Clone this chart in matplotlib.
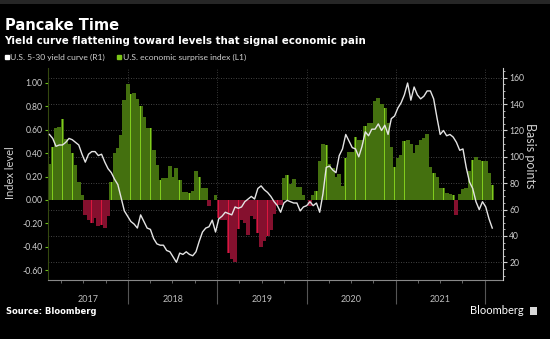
import numpy as np
import pandas as pd
import matplotlib
matplotlib.use('Agg')
import matplotlib.pyplot as plt
import matplotlib.dates as mdates
from matplotlib.ticker import FixedLocator, MultipleLocator, FuncFormatter
from matplotlib.lines import Line2D
from matplotlib.patches import Rectangle

plt.rcParams['font.family'] = ['Lato', 'DejaVu Sans']

# values, roughly every two weeks
surprise = [0.31, 0.45, 0.61, 0.62, 0.69, 0.52, 0.48, 0.40, 0.30, 0.15,
            0.04, -0.13, -0.17, -0.20, -0.15, -0.22, -0.21, -0.24, -0.14, 0.15,
            0.40, 0.44, 0.55, 0.85, 0.99, 0.90, 0.91, 0.86, 0.80, 0.71,
            0.61, 0.61, 0.43, 0.30, 0.17, 0.19, 0.19, 0.29, 0.20, 0.27,
            0.17, 0.07, 0.07, 0.06, 0.08, 0.25, 0.20, 0.10, 0.10, -0.05,
            0.00, 0.04, -0.15, -0.17, -0.17, -0.45, -0.50, -0.53, -0.25, -0.17,
            -0.20, -0.30, -0.14, -0.16, -0.28, -0.40, -0.35, -0.31, -0.26, -0.12,
            -0.04, -0.04, 0.19, 0.21, 0.14, 0.18, 0.11, 0.11, 0.04, 0.00,
            -0.05, 0.04, 0.08, 0.33, 0.48, 0.47, 0.31, 0.27, 0.20, 0.22,
            0.12, 0.36, 0.41, 0.41, 0.54, 0.51, 0.51, 0.63, 0.66, 0.66,
            0.84, 0.87, 0.82, 0.78, 0.66, 0.45, 0.28, 0.36, 0.38, 0.50,
            0.51, 0.48, 0.40, 0.47, 0.51, 0.53, 0.56, 0.28, 0.23, 0.20,
            0.10, 0.10, 0.06, 0.05, 0.04, -0.13, 0.05, 0.09, 0.10, 0.25,
            0.34, 0.37, 0.34, 0.33, 0.33, 0.23, 0.13]

curve = [117, 114, 108, 109, 109, 111, 114, 113, 111, 109,
         102, 96, 102, 104, 104, 101, 102, 96, 91, 88,
         83, 79, 69, 59, 55, 51, 49, 46, 56, 51,
         46, 45, 38, 34, 33, 33, 29, 28, 24, 20,
         27, 26, 28, 26, 25, 28, 36, 43, 46, 47,
         52, 43, 53, 55, 58, 57, 56, 62, 61, 62,
         66, 68, 70, 68, 76, 78, 75, 73, 70, 66,
         63, 58, 65, 67, 66, 65, 65, 59, 62, 63,
         66, 63, 65, 58, 72, 92, 93, 90, 88, 101,
         106, 117, 112, 107, 106, 100, 108, 119, 116, 121,
         121, 125, 120, 124, 117, 129, 131, 137, 141, 147,
         156, 143, 153, 147, 144, 146, 150, 150, 144, 130,
         117, 120, 116, 117, 115, 111, 105, 106, 92, 81,
         76, 66, 60, 66, 62, 53, 46]

dates = pd.date_range('2017-02-12', '2022-01-31', periods=len(surprise))
years = [2017, 2018, 2019, 2020, 2021]
left_ticks = [-0.6, -0.4, -0.2, 0.0, 0.2, 0.4, 0.6, 0.8, 1.0]
right_ticks = [20, 40, 60, 80, 100, 120, 140, 160]

xlim = (pd.Timestamp('2017-02-06'), pd.Timestamp('2022-03-16'))
txt = '#d0d0d0'
head = ['DejaVu Sans']

fig = plt.figure(figsize=(5.5, 3.39), dpi=100, facecolor='black')
rect = [48 / 550, 59 / 339, 455 / 550, 212 / 339]

# bottom layer: horizontal grid from right axis + year labels
bg = fig.add_axes(rect)
bg.set_facecolor('black')
bg.set_xlim(xlim)
bg.set_ylim(6.6, 167.4)
bg.set_yticks(right_ticks)
bg.grid(axis='y', color='#5a5a5a', ls=(0, (1, 2)), lw=0.6)
bg.tick_params(axis='y', left=False, labelleft=False)
mids = []
for y in years:
    a = max(xlim[0], pd.Timestamp(f'{y}-01-01'))
    b = pd.Timestamp(f'{y + 1}-01-01')
    mids.append(a + (b - a) / 2)
bg.set_xticks(mids)
bg.set_xticklabels([str(y) for y in years])
bg.tick_params(axis='x', length=0, pad=11, labelsize=6.5, labelcolor='#bdbdbd')
for s in bg.spines.values():
    s.set_visible(False)

# bars, left axis
ax = fig.add_axes(rect)
ax.patch.set_alpha(0)
s = np.array(surprise)
pos = s >= 0
dark = np.where(pos, '#44700f', '#85102e')
bright = np.where(pos, '#80cc1c', '#dc163e')
ax.bar(dates, s, width=16, color=dark, linewidth=0)
ax.bar(dates[1::3], s[1::3], width=3, color=bright[1::3], linewidth=0)
ax.set_xlim(xlim)
ax.set_ylim(-0.682, 1.125)
ax.set_axisbelow(True)
ax.xaxis.set_major_locator(mdates.YearLocator())
ax.xaxis.set_minor_locator(mdates.MonthLocator(bymonth=[1, 4, 7, 10]))
ax.grid(axis='x', which='major', color='#4a4a4a', ls=(0, (1, 2)), lw=0.6)
ax.tick_params(axis='x', which='major', length=17, color='#555555', labelbottom=False)
ax.tick_params(axis='x', which='minor', length=2.5, color='#777777')
ax.yaxis.set_major_locator(FixedLocator(left_ticks))
ax.yaxis.set_major_formatter(FuncFormatter(lambda v, p: f'{v:.2f}'.replace('-0.00', '0.00')))
ax.tick_params(axis='y', length=2.5, color='#6fbf1a', labelcolor=txt, labelsize=6.2, pad=1.5)
ax.spines['top'].set_visible(False)
ax.spines['right'].set_visible(False)
ax.spines['left'].set_color('#34480f')
ax.spines['bottom'].set_color('#888888')

# yield curve, right axis
ax2 = ax.twinx()
ax2.plot(dates, curve, color='#e4e4e4', lw=1.0)
ax2.set_xlim(xlim)
ax2.set_ylim(6.6, 167.4)
ax2.set_yticks(right_ticks)
ax2.yaxis.set_minor_locator(MultipleLocator(5))
ax2.tick_params(axis='y', which='major', length=3, color='#cfcfcf', labelcolor=txt, labelsize=6.2, pad=1.5)
ax2.tick_params(axis='y', which='minor', length=1.5, color='#cfcfcf')
for k in ['top', 'left', 'bottom']:
    ax2.spines[k].set_visible(False)
ax2.spines['right'].set_color('#cfcfcf')

fig.text(11 / 550, 1 - 173 / 339, 'Index level', rotation=90, ha='center', va='center',
         color=txt, fontsize=8)
fig.text(530 / 550, 1 - 156 / 339, 'Basis points', rotation=270, ha='center', va='center',
         color=txt, fontsize=9)

# header
fig.add_artist(Rectangle((0, 1 - 3.5 / 339), 1, 3.5 / 339, transform=fig.transFigure,
                         color='#262626', lw=0))
fig.text(5 / 550, 1 - 30 / 339, 'Pancake Time', color='white', fontsize=10.5,
         weight='bold', va='baseline', family=head)
fig.text(4 / 550, 1 - 44.5 / 339, 'Yield curve flattening toward levels that signal economic pain',
         color='white', fontsize=7.4, weight='bold', va='baseline', family=head)

handles = [Line2D([], [], marker='s', ls='', color='white', ms=3.5),
           Line2D([], [], marker='s', ls='', color='#7cc618', ms=3.5)]
fig.legend(handles, ['U.S. 5-30 yield curve (R1)', 'U.S. economic surprise index (L1)'],
           loc='upper left', bbox_to_anchor=(0.008, 1 - 54 / 339), ncol=2, frameon=False,
           fontsize=6.1, labelcolor=txt, handlelength=0.6, handletextpad=0.1,
           columnspacing=1.4, borderaxespad=0, borderpad=0)

# footer
fig.text(6 / 550, 1 - 311 / 339, 'Source: Bloomberg', color='white', fontsize=6,
         weight='bold', va='center', family=head)
fig.text(524 / 550, 1 - 311 / 339, 'Bloomberg', color='white', fontsize=8,
         ha='right', va='center')
fig.add_artist(Rectangle((530 / 550, 1 - 315 / 339), 7 / 550, 8 / 339, transform=fig.transFigure,
                         color='#d8d8d8', lw=0))

fig.savefig('out.png', dpi=100, facecolor='black')
